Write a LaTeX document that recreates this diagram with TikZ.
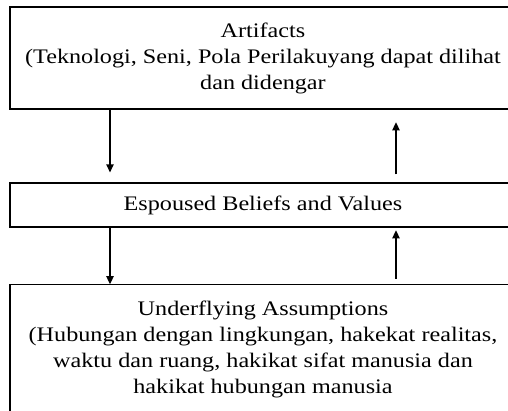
\documentclass[tikz,border=0pt]{standalone}
\usepackage{fontspec}
\setmainfont{Liberation Serif}[FakeStretch=1.17]
\usetikzlibrary{arrows.meta, calc}

\begin{document}
\begin{tikzpicture}[
    x=0.75pt, y=-0.75pt,
    layer/.style={draw, line width=0.9pt, minimum width=379.5pt, align=center, inner sep=0pt,
        font=\fontsize{15.5}{19.5}\selectfont},
    arrow/.style={-{Triangle[width=5.5pt, length=6pt]}, line width=0.9pt}
]
    \clip (0,0) rectangle (508,411);
    \node[layer, minimum height=76.5pt] (artifacts) at (263,58)
        {Artifacts\\(Teknologi, Seni, Pola Perilakuyang dapat dilihat\\dan didengar};
    \node[layer, minimum height=33pt] (espoused) at (263,205)
        {Espoused Beliefs and Values};
    \node[layer, minimum height=97pt] (assumptions) at (263,349.5)
        {Underflying Assumptions\\(Hubungan dengan lingkungan, hakekat realitas,\\waktu dan ruang, hakikat sifat manusia dan\\hakikat hubungan manusia};

    \coordinate (lx) at (110,0);
    \coordinate (rx) at (396,0);

    % down on the left, up on the right
    \draw[arrow, shorten >=7.5pt] (artifacts.south -| lx) -- (espoused.north -| lx);
    \draw[arrow, shorten <=6pt, shorten >=9.5pt] (espoused.north -| rx) -- (artifacts.south -| rx);
    \draw[arrow] (espoused.south -| lx) -- (assumptions.north -| lx);
    \draw[arrow, shorten <=4pt, shorten >=2pt] (assumptions.north -| rx) -- (espoused.south -| rx);
\end{tikzpicture}
\end{document}
